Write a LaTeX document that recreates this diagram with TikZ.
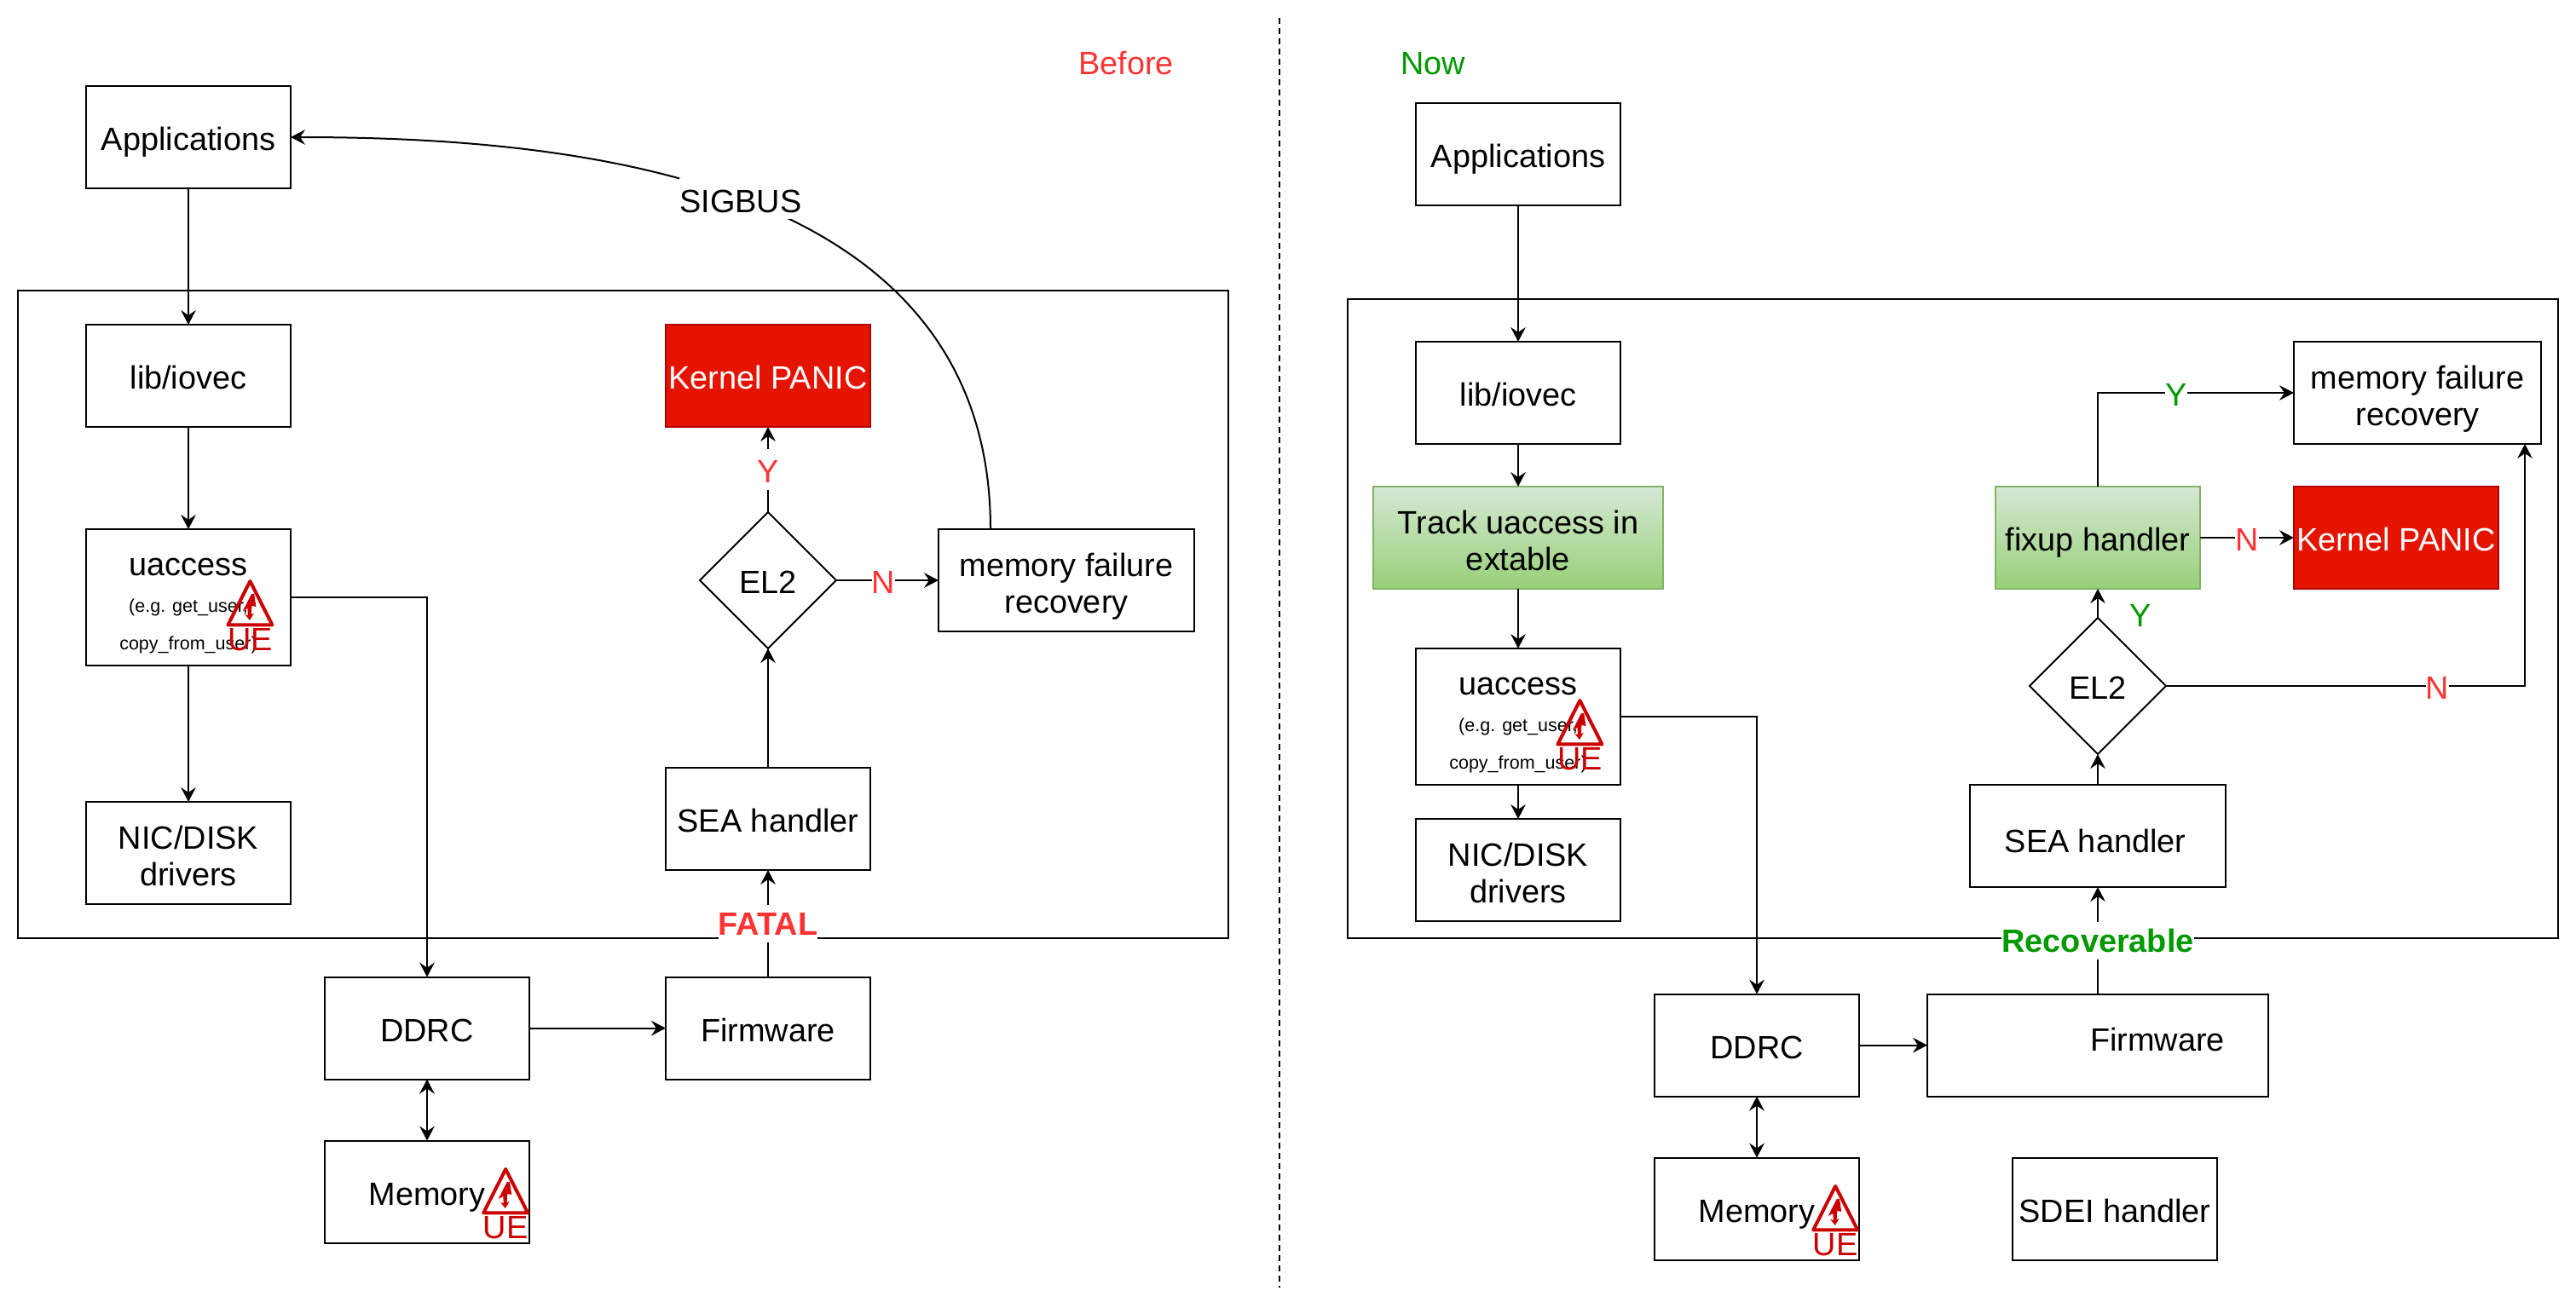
\documentclass[tikz,border=0pt]{standalone}
\usepackage{fontspec}
\setmainfont{Liberation Sans}
\usepackage{xcolor}
\usetikzlibrary{arrows.meta,shapes.geometric}
\definecolor{alertred}{HTML}{FF3333}
\definecolor{okgreen}{HTML}{009900}
\definecolor{warnred}{HTML}{CC0000}
\definecolor{panicfill}{HTML}{E51400}
\definecolor{panicline}{HTML}{B20000}
\definecolor{greentop}{HTML}{D5E8D4}
\definecolor{greenbottom}{HTML}{97D077}
\definecolor{greenline}{HTML}{82B366}
\newcommand{\linestrut}{\rule[-4pt]{0pt}{24pt}}
\newcommand{\firststrut}{\rule{0pt}{21pt}}
\newcommand{\smalltext}{\fontsize{10.8}{13}\selectfont}

\begin{document}
\begin{tikzpicture}[
		x=1bp, y=-1bp,
		line width=1bp,
		>={Stealth[length=8.5bp,width=8.8bp,inset=3bp]},
		every node/.style={font=\fontsize{19}{22}\selectfont},
		panel/.style={rectangle,draw,inner sep=0pt,outer sep=0pt},
		box/.style={rectangle,draw,align=center,inner sep=0pt,outer sep=0pt,
			minimum width=120bp,minimum height=60bp,
			execute at begin node=\linestrut,execute at end node=\linestrut},
		wide/.style={box,minimum width=150bp},
		tall/.style={box,minimum height=80bp},
		track/.style={box,draw=greenline,top color=greentop,bottom color=greenbottom},
		panic/.style={box,draw=panicline,fill=panicfill,text=white},
		decide/.style={diamond,draw,aspect=1,inner sep=0pt,outer sep=0pt,
			minimum width=80bp,minimum height=80bp,
			execute at begin node=\linestrut},
		lbl/.style={fill=white,inner sep=0pt,text height=20pt,text depth=4pt},
		boldlbl/.style={fill=white,inner sep=0pt,text height=18pt,text depth=4pt,font=\fontsize{19}{22}\selectfont\bfseries},
		title/.style={inner sep=0pt,text height=18pt,text depth=4pt},
		uelabel/.style={anchor=base,inner sep=0pt,text=warnred,font=\fontsize{19}{20}\selectfont},
		warnicon/.pic={
			\draw[warnred,line width=2bp,line join=round] (0,0) -- (-13,25.7) -- (13,25.7) -- cycle;
			\fill[warnred] (0.8,7.5) -- (-4.3,17.5) -- (-1.4,16) -- (-1.3,20) -- (-3,19.5) -- (-0.2,23)
				-- (2.2,19) -- (0.7,19.5) -- (1,14.5) -- (3.5,15) -- (2.4,7.5) -- cycle;
			\node[uelabel] (-ue) at (0,40.5) {UE};
		}
		]
		\useasboundingbox (0,0) rectangle (1511,767);

		\node[panel,minimum width=710bp,minimum height=380bp] (kernelL) at (365.5,360.5) {};
		\node[panel,minimum width=710bp,minimum height=375bp] (kernelR) at (1145.5,363) {};
		\coordinate (divtop) at (750.5,10.5);
		\coordinate (divbottom) at (750.5,755.5);
		\draw[dash pattern=on 3.5bp off 2.5bp] (divtop) -- (divbottom);

		\node[title,text=alertred] (before) at (660.5,37) {Before};
		\node[box] (appsL) at (110.5,80.5) {Applications};
		\node[box] (libL) at (110.5,220.5) {lib/iovec};
		\node[tall] (uaccessL) at (110.5,350.5) {\rule{0pt}{22pt}uaccess\\[-0.5pt]{\smalltext (e.g. get\_user,}\\[0pt]{\smalltext copy\_from\_user)}};
		\node[box] (nicL) at (110.5,500.5) {\firststrut NIC/DISK\\drivers};
		\node[box] (ddrcL) at (250.5,603.3) {DDRC};
		\node[box] (memL) at (250.5,699.3) {Memory};
		\node[box] (fwL) at (450.5,603.3) {Firmware};
		\node[box] (seaL) at (450.5,480.5) {SEA handler};
		\node[decide] (el2L) at (450.5,340.5) {EL2};
		\node[panic] (panicL) at (450.5,220.5) {Kernel PANIC};
		\node[wide] (recoveryL) at (625.5,340.5) {\firststrut memory failure\\recovery};
		\pic (warnL) at (146.7,341) {warnicon};
		\pic (warnmemL) at (296.6,686) {warnicon};

		\draw[->] (appsL.south) -- (libL.north);
		\draw[->] (libL.south) -- (uaccessL.north);
		\draw[->] (uaccessL.south) -- (nicL.north);
		\draw[->] (uaccessL.east) -| (ddrcL.north);
		\draw[->] (ddrcL.east) -- (fwL.west);
		\draw[<->] (ddrcL.south) -- (memL.north);
		\draw[->] (fwL.north) -- node[boldlbl,text=alertred] (fatal) {FATAL} (seaL.south);
		\draw[->] (seaL.north) -- (el2L.south);
		\draw[->] (el2L.north) -- node[lbl,text=alertred] (yesL) {Y} (panicL.south);
		\draw[->] (el2L.east) -- node[lbl,text=alertred,pos=.46] (noL) {N} (recoveryL.west);
		\draw[->] ([xshift=-44.5bp]recoveryL.north) .. controls (581,105) and (340,80.5) .. node[lbl,pos=.51] (sigbus) {SIGBUS} (appsL.east);

		\node[title,text=okgreen] (now) at (840.5,37) {Now};
		\node[box] (appsR) at (890.5,90.5) {Applications};
		\node[box] (libR) at (890.5,230.5) {lib/iovec};
		\node[track,minimum width=170bp] (trackR) at (890.5,315.5) {\firststrut Track uaccess in\\extable};
		\node[tall] (uaccessR) at (890.5,420.5) {\rule{0pt}{22pt}uaccess\\[-0.5pt]{\smalltext (e.g. get\_user,}\\[0pt]{\smalltext copy\_from\_user)}};
		\node[box] (nicR) at (890.5,510.5) {\firststrut NIC/DISK\\drivers};
		\node[box] (ddrcR) at (1030.5,613.3) {DDRC};
		\node[box] (memR) at (1030.5,709.3) {Memory};
		\node[box,minimum width=200bp] (fwR) at (1230.5,613.3) {\hspace*{70bp}Firmware\rule[-12.6pt]{0pt}{12.6pt}};
		\node[box] (sdeiR) at (1240.5,709.3) {SDEI handler};
		\node[wide] (seaR) at (1230.5,490.5) {\rule{0pt}{24pt}SEA handler\hspace*{3bp}};
		\node[decide] (el2R) at (1230.5,402.5) {EL2};
		\node[track] (fixupR) at (1230.5,315.5) {fixup handler};
		\node[panic] (panicR) at (1405.5,315.5) {Kernel PANIC};
		\node[box,minimum width=145bp] (recoveryR) at (1418,230.5) {\firststrut memory failure\\recovery};
		\pic (warnR) at (926.7,411) {warnicon};
		\pic (warnmemR) at (1076.6,696) {warnicon};

		\draw[->] (appsR.south) -- (libR.north);
		\draw[->] (libR.south) -- (trackR.north);
		\draw[->] (trackR.south) -- (uaccessR.north);
		\draw[->] (uaccessR.south) -- (nicR.north);
		\draw[->] (uaccessR.east) -| (ddrcR.north);
		\draw[->] (ddrcR.east) -- (fwR.west);
		\draw[<->] (ddrcR.south) -- (memR.north);
		\draw[->] (fwR.north) -- node[boldlbl,text=okgreen] (recoverable) {Recoverable} (seaR.south);
		\draw[->] (seaR.north) -- (el2R.south);
		\draw[->] (el2R.north) -- (fixupR.south);
		\node[title,text=okgreen] (yesfixR) at (1255.5,361) {Y};
		\draw[->] (fixupR.east) -- node[lbl,text=alertred] (nofixR) {N} (panicR.west);
		\draw[->] (fixupR.north) |- node[lbl,text=okgreen,pos=.7] (yesR) {Y} (recoveryR.west);
		\draw[->] (el2R.east) -| node[lbl,text=alertred,pos=.378] (noR) {N} ([xshift=63bp]recoveryR.south);
	\end{tikzpicture}
\end{document}
